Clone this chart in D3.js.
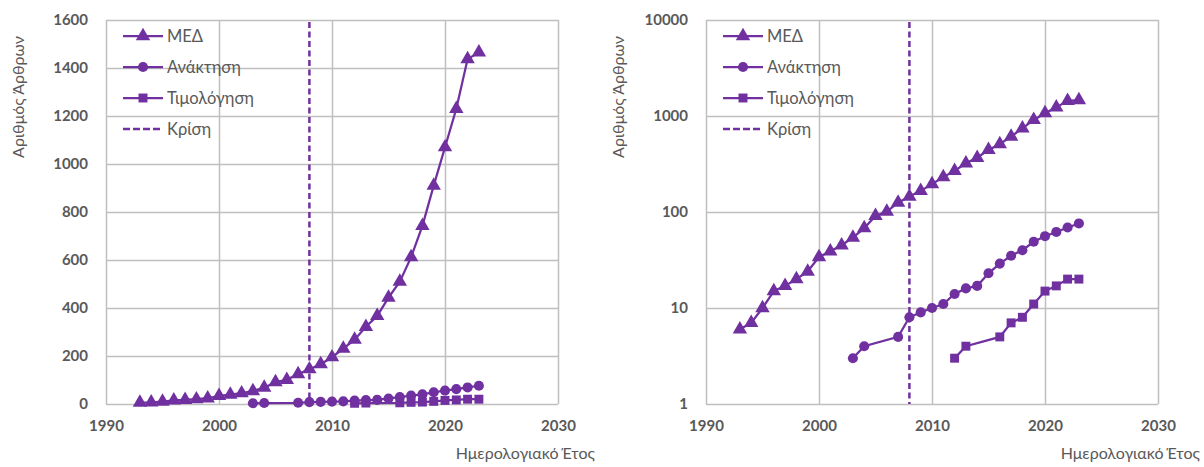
<!DOCTYPE html>
<html>
<head>
<meta charset="utf-8">
<script src="https://cdn.jsdelivr.net/npm/d3@7"></script>
<style>
  body { margin: 0; background: #fff; }
  svg text { font-family: Lato, "Open Sans", sans-serif; fill: #595959; }
</style>
</head>
<body>
<script>
// data
const medYears = d3.range(1993, 2024);
const medValues = [6, 7, 10, 15, 17, 20, 24, 34, 39, 45, 54, 68, 91, 101, 125, 145, 166, 195, 231, 268,
                   322, 367, 443, 510, 612, 742, 910, 1070, 1230, 1437, 1465];
const recYears = [2003, 2004, 2007, 2008, 2009, 2010, 2011, 2012, 2013, 2014, 2015, 2016, 2017, 2018, 2019, 2020, 2021, 2022, 2023];
const recValues = [3, 4, 5, 8, 9, 10, 11, 14, 16, 17, 23, 29, 35, 40, 49, 56, 62, 69, 76];
const invYears = [2012, 2013, 2016, 2017, 2018, 2019, 2020, 2021, 2022, 2023];
const invValues = [3, 4, 5, 7, 8, 11, 15, 17, 20, 20];
const crisisYear = 2008;

const xTicks = [1990, 2000, 2010, 2020, 2030];
const linTicks = [0, 200, 400, 600, 800, 1000, 1200, 1400, 1600];
const logTicks = [1, 10, 100, 1000, 10000];

const legendLabels = ["ΜΕΔ", "Ανάκτηση", "Τιμολόγηση", "Κρίση"];
const yTitle = "Αριθμός Άρθρων";
const xTitle = "Ημερολογιακό Έτος";

const purple = "#7030A0";
const gridColor = "#BFBFBF";

const svg = d3.select("body").append("svg")
    .attr("width", 1204)
    .attr("height", 467);

function drawPanel(left, isLog) {
    let g = svg.append("g").attr("transform", "translate(" + left + ",0)");
    let w = 452, top = 20, bottom = 404;

    let x = d3.scaleLinear().domain([1990, 2030]).range([0, w]);
    let y = isLog
        ? d3.scaleLog().domain([1, 10000]).range([bottom, top])
        : d3.scaleLinear().domain([0, 1600]).range([bottom, top]);
    let yTicks = isLog ? logTicks : linTicks;

    // grid lines
    g.append("g")
        .attr("transform", "translate(0," + bottom + ")")
        .call(d3.axisBottom(x).tickValues(xTicks).tickSize(-(bottom - top)).tickFormat(""))
        .call(a => a.select(".domain").remove())
        .selectAll("line").attr("stroke", gridColor).attr("stroke-width", 1.5);
    g.append("g")
        .call(d3.axisLeft(y).tickValues(yTicks).tickSize(-w).tickFormat(""))
        .call(a => a.select(".domain").remove())
        .selectAll("line").attr("stroke", gridColor).attr("stroke-width", 1.5);

    // tick labels
    let xAx = g.append("g")
        .attr("transform", "translate(0," + bottom + ")")
        .call(d3.axisBottom(x).tickValues(xTicks).tickSize(0).tickPadding(16).tickFormat(d3.format("d")));
    xAx.select(".domain").remove();
    let yAx = g.append("g")
        .call(d3.axisLeft(y).tickValues(yTicks).tickSize(0).tickPadding(18).tickFormat(d3.format("d")));
    yAx.select(".domain").remove();
    g.selectAll(".tick text")
        .style("font-size", "15px")
        .style("font-weight", "bold")
        .style("font-family", "Lato, sans-serif")
        .attr("fill", "#595959");

    // axis titles
    g.append("text")
        .attr("transform", "translate(-88,97) rotate(-90)")
        .attr("text-anchor", "middle")
        .attr("dy", "0.35em")
        .style("font-size", "16px")
        .text(yTitle);
    g.append("text")
        .attr("x", isLog ? 494 : 489)
        .attr("y", 459)
        .attr("text-anchor", "end")
        .style("font-size", "16px")
        .text(xTitle);

    // crisis line
    g.append("line")
        .attr("x1", x(crisisYear)).attr("x2", x(crisisYear))
        .attr("y1", top + 2).attr("y2", bottom)
        .attr("stroke", purple)
        .attr("stroke-width", 2.5)
        .attr("stroke-dasharray", "6,3.5");

    let line = d3.line().x(d => x(d[0])).y(d => y(d[1]));
    let series = [
        {pts: d3.zip(medYears, medValues), shape: d3.symbolTriangle, size: 90},
        {pts: d3.zip(recYears, recValues), shape: d3.symbolCircle, size: 80},
        {pts: d3.zip(invYears, invValues), shape: d3.symbolSquare, size: 80}
    ];
    series.forEach(s => {
        g.append("path")
            .attr("d", line(s.pts))
            .attr("fill", "none")
            .attr("stroke", purple)
            .attr("stroke-width", 2.25);
        g.selectAll(null).data(s.pts).enter()
            .append("path")
            .attr("transform", d => "translate(" + x(d[0]) + "," + y(d[1]) + ")")
            .attr("d", d3.symbol().type(s.shape).size(s.size))
            .attr("fill", purple);
    });

    // legend
    let lg = g.append("g").attr("transform", "translate(17,0)");
    let rowY = [36, 67, 98, 129];
    legendLabels.forEach((lab, i) => {
        let r = lg.append("g").attr("transform", "translate(0," + rowY[i] + ")");
        r.append("line")
            .attr("x1", 0).attr("x2", 40)
            .attr("stroke", purple)
            .attr("stroke-width", i == 3 ? 2.5 : 2.25)
            .attr("stroke-dasharray", i == 3 ? "7,3" : null);
        if (i < 3) {
            r.append("path")
                .attr("transform", "translate(20,0)")
                .attr("d", d3.symbol().type(series[i].shape).size(series[i].size))
                .attr("fill", purple);
        }
        r.append("text")
            .attr("x", 44)
            .attr("dy", "0.35em")
            .style("font-size", "16.5px")
            .text(lab);
    });
}

drawPanel(106, false);
drawPanel(706, true);
</script>
</body>
</html>
